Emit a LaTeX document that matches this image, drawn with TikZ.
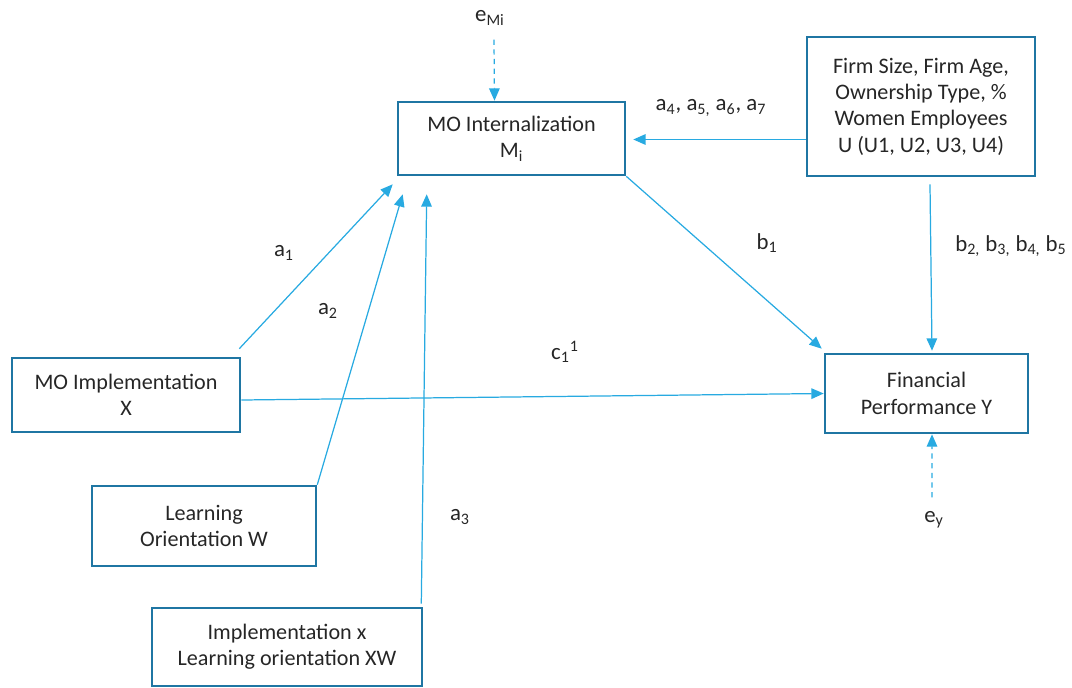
\documentclass[tikz,border=0pt]{standalone}
\usepackage{fontspec}
\setmainfont{Carlito}
\usetikzlibrary{arrows.meta}
\definecolor{boxblue}{RGB}{31,118,163}
\definecolor{arrowblue}{RGB}{40,170,225}

\begin{document}
\begin{tikzpicture}[x=0.02cm,y=-0.02cm,
    var/.style={draw=boxblue,line width=1.5pt,align=center,inner sep=2pt,font=\fontsize{12.6}{15}\selectfont,text=black!85},
    link/.style={draw=arrowblue,line width=0.7pt,-{Triangle[length=7pt,width=6pt]}},
    errlink/.style={link,dash pattern=on 3pt off 2.5pt},
    coef/.style={font=\fontsize{13}{15}\selectfont,text=black!85}
]
\useasboundingbox (0,0) rectangle (1072,687);

% Boxes
\node[var,minimum width=4.54cm,minimum height=1.46cm] (mint) at (511.5,138.5) {MO Internalization\\M\textsubscript{i}};
\node[var,minimum width=4.56cm,minimum height=2.78cm] (ctrl) at (921,106.5) {Firm Size, Firm Age,\\Ownership Type, \%\\Women Employees\\U (U1, U2, U3, U4)};
\node[var,minimum width=4.56cm,minimum height=1.48cm] (impl) at (126,395) {MO Implementation\\X};
\node[var,minimum width=4.06cm,minimum height=1.58cm] (perf) at (926.5,393.5) {Financial\\Performance Y};
\node[var,minimum width=4.48cm,minimum height=1.6cm] (learn) at (204,526) {Learning\\Orientation W};
\node[var,minimum width=5.4cm,minimum height=1.56cm] (inter) at (287,647) {Implementation x\\Learning orientation XW};

% Error terms
\node[coef] (emi) at (490,18) {e\textsubscript{Mi}};
\node[coef] (ey) at (934,520) {e\textsubscript{y}};
\draw[errlink] ([shift={(4,8)}]emi.south) -- ([shift={(-17,0)}]mint.north);
\draw[errlink] ([shift={(-2,-8)}]ey.north) -- ([shift={(5.5,0)}]perf.south);

% Paths to the mediator
\draw[link] ([shift={(-2,-8)}]impl.north east) -- ([shift={(-4,8)}]mint.south west);
\draw[link] (learn.north east) -- ([shift={(6,18)}]mint.south west);
\draw[link] ([shift={(-2,-3)}]inter.north east) -- ([shift={(30,18)}]mint.south west);
\draw[link] ([shift={(0,33)}]ctrl.west) -- ([shift={(7,1)}]mint.east);

% Paths to the outcome
\draw[link] (mint.south east) -- ([shift={(-2,-4)}]perf.north west);
\draw[link] ([shift={(9,7)}]ctrl.south) -- ([shift={(5.5,-2)}]perf.north);
\draw[link] ([shift={(0,5)}]impl.east) -- (perf.west);

% Coefficients
\node[coef] (a1) at (284,253) {a\textsubscript{1}};
\node[coef] (a2) at (328,311) {a\textsubscript{2}};
\node[coef] (a3) at (460,517) {a\textsubscript{3}};
\node[coef] (a47) at (711,108) {a\textsubscript{4}, a\textsubscript{5,} a\textsubscript{6}, a\textsubscript{7}};
\node[coef] (b1) at (767,243) {b\textsubscript{1}};
\node[coef] (b25) at (1011,246) {b\textsubscript{2,} b\textsubscript{3,} b\textsubscript{4,} b\textsubscript{5}};
\node[coef] (c1) at (565,352) {c\textsubscript{1}\textsuperscript{1}};

\end{tikzpicture}
\end{document}
